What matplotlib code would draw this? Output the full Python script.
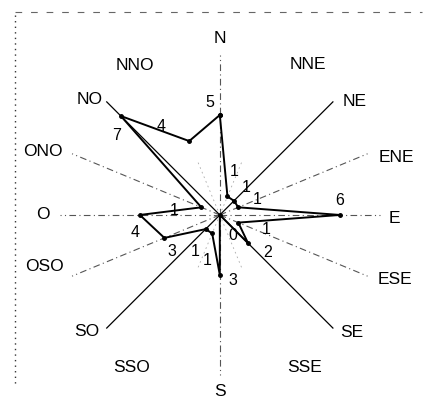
import numpy as np
import matplotlib.pyplot as plt
from matplotlib.lines import Line2D

plt.rcParams['font.family'] = ['Liberation Sans', 'DejaVu Sans']

# rosa de los vientos: frecuencia por direccion
direcciones = ['N', 'NNE', 'NE', 'ENE', 'E', 'ESE', 'SE', 'SSE',
               'S', 'SSO', 'SO', 'OSO', 'O', 'ONO', 'NO', 'NNO']
frecuencia = [5, 1, 1, 1, 6, 1, 2, 0, 3, 1, 1, 3, 4, 1, 7, 4]

ang = np.deg2rad(np.arange(len(direcciones)) * 22.5)

fig = plt.figure(figsize=(4.26, 4.17), dpi=100)
ax = fig.add_axes([0.117, 0.077, 0.798, 0.815], projection='polar')
ax.set_theta_zero_location('N')
ax.set_theta_direction(-1)
ax.set_ylim(0, 8.5)
ax.set_xticks([])
ax.set_yticks([])
ax.grid(False)
ax.spines['polar'].set_visible(False)
ax.patch.set_alpha(0)

# radios
diagonales = ('NE', 'SE', 'SO', 'NO')
cortos = ('NNE', 'SSE', 'SSO', 'NNO')
for nombre, th in zip(direcciones, ang):
    if nombre in diagonales:
        ax.plot([th, th], [0, 8.0], color='black', lw=0.9)
    elif nombre in cortos:
        ax.plot([th, th], [0, 3], color='#aaaaaa', lw=0.6, ls=(0, (2, 4)))
    else:
        ax.plot([th, th], [0, 8.0], color='#555555', lw=0.8, ls=(0, (6, 3, 1, 3)))

# poligono
th_c = np.append(ang, ang[0])
v_c = np.append(frecuencia, frecuencia[0])
ax.plot(th_c, v_c, color='black', lw=1.4, marker='o', ms=2.5, zorder=5)

# etiquetas de valores (desplazamiento en pixeles)
desp = [(-10, 13), (7, 25), (12, 13), (19, 8), (0, 14), (28, -7), (20, -9), (13, -21),
        (13, -6), (-5, -27), (-10, -22), (7, -14), (-5, -18), (-27, -3), (-4, -19), (-28, 15)]
for th, v, d in zip(ang, frecuencia, desp):
    ax.annotate(str(v), (th, v), xytext=d, textcoords='offset pixels',
                ha='center', va='center', fontsize=11.5, zorder=6)

# etiquetas de direcciones (angulo, radio en unidades)
pos_dir = [(0, 8.85), (30.4, 8.7), (50, 8.8), (72, 9.3), (91, 8.75), (110.4, 9.33),
           (131.8, 8.85), (151, 8.75), (180, 8.85), (210, 8.83), (228.7, 8.86), (253.5, 9.13),
           (270, 8.85), (289.6, 9.4), (311.5, 8.68), (330.5, 8.6)]
for nombre, (a, r) in zip(direcciones, pos_dir):
    ax.text(np.deg2rad(a), r, nombre, ha='center', va='center', fontsize=12.5)

# borde del area del grafico (escaneado)
fig.add_artist(Line2D([15 / 426, 15 / 426], [1 - 15 / 417, 1 - 386 / 417],
                      transform=fig.transFigure, color='#333333', lw=1, ls=(0, (1, 3))))
fig.add_artist(Line2D([15 / 426, 422 / 426], [1 - 12 / 417, 1 - 12 / 417],
                      transform=fig.transFigure, color='#666666', lw=0.8, ls=(0, (6, 8))))

fig.savefig('out.png', dpi=100)
